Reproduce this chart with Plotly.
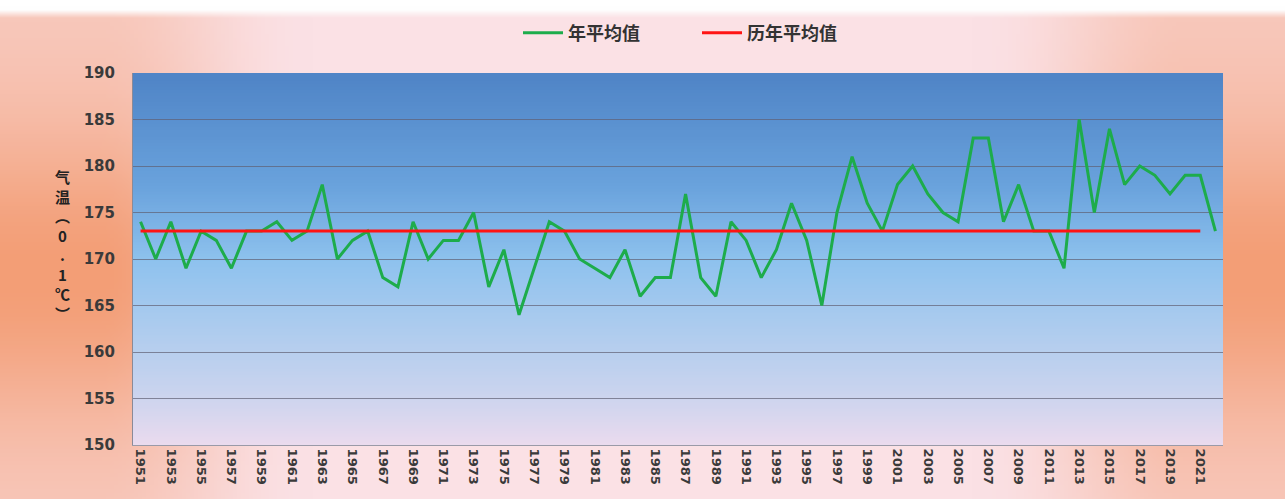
import base64
import math
import struct
import zlib

import plotly.graph_objects as go

# ---------------- data ----------------
years = list(range(1951, 2023))
annual_mean = [
    174, 170, 174, 169, 173, 172, 169, 173, 173, 174,
    172, 173, 178, 170, 172, 173, 168, 167, 174, 170,
    172, 172, 175, 167, 171, 164, 169, 174, 173, 170,
    169, 168, 171, 166, 168, 168, 177, 168, 166, 174,
    172, 168, 171, 176, 172, 165, 175, 181, 176, 173,
    178, 180, 177, 175, 174, 183, 183, 174, 178, 173,
    173, 169, 185, 175, 184, 178, 180, 179, 177, 179,
    179, 173,
]
hist_years = list(range(1951, 2022))
hist_mean = [173] * len(hist_years)
tick_years = list(range(1951, 2022, 2))
y_ticks = [150, 155, 160, 165, 170, 175, 180, 185, 190]

name_annual = "年平均值"
name_hist = "历年平均值"
y_title = "气<br>温<br>︵<br>0<br>.<br>1<br>℃<br>︶"

# ---------------- layout geometry ----------------
W, H = 1285, 499
ML, MR, MT, MB = 133, 62, 73, 54
PW, PH = W - ML - MR, H - MT - MB


def make_png(w, h, fn):
    rows = []
    for j in range(h):
        row = bytearray([0])
        for i in range(w):
            r, g, b = fn(i / (w - 1), j / (h - 1))
            row += bytes((max(0, min(255, int(r))), max(0, min(255, int(g))), max(0, min(255, int(b)))))
        rows.append(bytes(row))
    raw = b"".join(rows)

    def chunk(t, d):
        c = struct.pack(">I", len(d)) + t + d
        return c + struct.pack(">I", zlib.crc32(t + d) & 0xFFFFFFFF)

    png = (b"\x89PNG\r\n\x1a\n"
           + chunk(b"IHDR", struct.pack(">IIBBBBB", w, h, 8, 2, 0, 0, 0))
           + chunk(b"IDAT", zlib.compress(raw, 9))
           + chunk(b"IEND", b""))
    return "data:image/png;base64," + base64.b64encode(png).decode()


def mix(a, b, t):
    return tuple(a[k] + (b[k] - a[k]) * t for k in range(3))


def clamp(v):
    return max(0.0, min(1.0, v))


PINK = (251, 225, 229)
ORANGE = (243, 158, 118)
WHITE = (255, 255, 255)


def paper_fn(nx, ny):
    h = abs(nx - 0.5) * 2
    wh = clamp((h - 0.52) / 0.33)
    wh = wh * wh * (3 - 2 * wh)
    wv = 0.35 + 0.65 * math.exp(-((ny - 0.55) / 0.3) ** 2)
    c = mix(PINK, ORANGE, wh * wv)
    py = ny * H
    wt = clamp((16 - py) / 8)
    return mix(c, WHITE, wt)


PLOT_STOPS = [
    (0.0, (80, 133, 199)),
    (0.3, (106, 163, 221)),
    (0.5, (142, 194, 238)),
    (0.7, (176, 205, 238)),
    (0.86, (202, 212, 238)),
    (1.0, (234, 219, 238)),
]


def plot_fn(nx, ny):
    for k in range(len(PLOT_STOPS) - 1):
        t0, c0 = PLOT_STOPS[k]
        t1, c1 = PLOT_STOPS[k + 1]
        if ny <= t1:
            return mix(c0, c1, (ny - t0) / (t1 - t0))
    return PLOT_STOPS[-1][1]


paper_img = make_png(322, 125, paper_fn)
plot_img = make_png(4, 120, plot_fn)

fig = go.Figure()
fig.add_trace(go.Scatter(
    x=years, y=annual_mean, mode="lines", name=name_annual,
    line=dict(color="#1dac4b", width=3), hoverinfo="skip",
))
fig.add_trace(go.Scatter(
    x=hist_years, y=hist_mean, mode="lines", name=name_hist,
    line=dict(color="#ff1414", width=3), hoverinfo="skip",
))

fig.update_layout(
    width=W, height=H, autosize=False,
    margin=dict(l=ML, r=MR, t=MT, b=MB),
    paper_bgcolor="rgb(251,225,229)",
    plot_bgcolor="rgba(0,0,0,0)",
    showlegend=True,
    legend=dict(
        orientation="h", x=(518 - ML) / PW, xanchor="left",
        y=1 + (MT - 33) / PH, yanchor="middle",
        bgcolor="rgba(0,0,0,0)", itemwidth=40,
        entrywidth=124,
        font=dict(family="Noto Sans CJK SC", size=18, color="#333333", weight="bold"),
    ),
    xaxis=dict(
        range=[1950.5, 2022.5], tickmode="array", tickvals=tick_years,
        ticktext=[str(v) for v in tick_years], tickangle=90,
        tickfont=dict(family="DejaVu Sans", size=13, color="#3a3a3a", weight="bold"),
        showgrid=False, zeroline=False, showline=True, linecolor="#9a9aa8", linewidth=1,
        ticks="", fixedrange=True,
    ),
    yaxis=dict(
        range=[150, 190], tickmode="array", tickvals=y_ticks,
        tickfont=dict(family="DejaVu Sans", size=15, color="#3a3a3a", weight="bold"),
        showgrid=True, gridcolor="rgba(95,95,115,0.7)", gridwidth=1,
        zeroline=False, showline=True, linecolor="#8a8a98", linewidth=1,
        ticks="outside", ticklen=14, tickcolor="rgba(0,0,0,0)", fixedrange=True,
    ),
    images=[
        dict(source=paper_img, xref="paper", yref="paper",
             x=-ML / PW, y=1 + MT / PH, sizex=W / PW, sizey=H / PH,
             xanchor="left", yanchor="top", sizing="stretch", layer="below"),
        dict(source=plot_img, xref="paper", yref="paper",
             x=0, y=1, sizex=1, sizey=1,
             xanchor="left", yanchor="top", sizing="stretch", layer="below"),
    ],
    annotations=[
        dict(text=y_title, xref="paper", yref="paper",
             x=(62 - ML) / PW, y=(445 - 245) / PH, xanchor="center", yanchor="middle",
             showarrow=False, align="center",
             font=dict(family="Noto Sans CJK SC", size=15, color="#222222", weight="bold")),
    ],
)

fig.write_html(
    "out.html",
    config={"displayModeBar": False, "staticPlot": True},
    post_script="document.body.style.margin='0';document.body.style.overflow='hidden';",
)
